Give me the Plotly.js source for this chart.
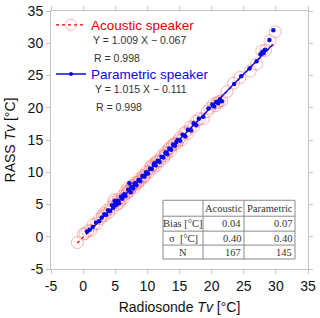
<!DOCTYPE html>
<html>
<head>
<meta charset="utf-8">
<script src="https://cdn.plot.ly/plotly-3.0.1.min.js"></script>
<style>html,body{margin:0;padding:0;background:#fff}#chart{width:320px;height:318px}</style>
</head>
<body>
<div id="chart"></div>
<script>
// Acoustic speaker (RASS vs radiosonde virtual temperature)
var acousticX = [-0.9,0.0,0.3,0.7,1.2,1.6,2.1,2.6,3.0,3.4,3.7,4.0,4.3,4.6,4.9,5.2,5.5,5.8,6.1,6.3,6.6,6.8,7.0,7.2,7.4,7.7,8.0,8.2,8.5,8.8,9.0,9.3,9.6,9.9,10.2,10.5,10.8,11.0,11.3,11.6,11.9,12.2,12.5,12.8,13.0,13.3,13.6,13.9,14.2,14.6,15.0,15.3,15.8,16.2,16.7,17.2,17.6,18.1,18.7,19.3,19.7,20.3,20.6,20.9,21.2,21.6,22.4,23.4,24.4,26.0,27.0,27.8,28.4,29.1,29.9,3.2,4.8,5.6,6.9,7.6,8.6,9.4,10.7,11.4,12.7,13.5,14.8,16.0];
var acousticY = [-0.9,0.4,0.5,0.9,1.0,1.9,2.0,2.8,3.2,3.3,4.1,3.8,4.6,4.4,5.4,5.0,5.8,5.6,6.3,6.0,7.0,6.7,7.6,7.1,7.5,7.9,7.7,8.4,8.3,9.0,8.8,9.5,9.4,10.1,10.0,10.8,10.6,11.3,11.0,11.8,11.7,12.5,12.2,13.1,12.9,13.6,13.3,14.2,14.4,14.5,15.3,15.0,16.1,16.0,17.0,17.1,17.9,18.3,18.3,19.4,19.9,20.6,20.3,20.8,21.0,21.1,22.5,23.8,24.7,25.7,26.8,28.8,28.9,30.4,31.8,3.6,5.7,5.2,6.9,7.9,8.5,9.2,11.0,11.6,12.6,13.8,14.9,16.3];
// Parametric speaker
var paramX = [0.6,1.0,1.5,2.0,2.5,2.9,3.3,3.6,3.9,4.2,4.5,4.7,4.9,5.1,5.4,5.6,5.9,6.1,6.4,6.6,7.2,7.0,7.4,7.5,7.8,8.0,8.3,8.6,8.9,9.2,9.5,9.8,10.1,10.4,10.7,11.0,11.3,11.6,11.9,12.2,12.5,12.8,13.1,13.4,13.7,14.0,14.3,14.7,15.1,15.5,15.9,16.3,16.8,17.2,17.6,18.0,18.7,19.5,20.1,20.4,20.7,21.0,21.3,21.6,23.5,24.6,25.9,27.0,27.6,27.9,28.1,28.3,29.0,29.6,5.0,6.3,8.1,9.7,11.1,12.9,14.5];
var paramY = [0.8,1.1,1.5,2.2,2.4,3.0,3.5,3.4,4.1,4.0,4.9,4.5,5.6,4.9,5.6,5.2,6.2,5.9,6.6,6.3,8.3,7.3,6.9,7.7,7.5,8.2,8.0,8.8,8.6,9.4,9.3,10.0,9.8,10.6,10.5,11.2,11.1,11.8,11.6,12.4,12.3,13.0,12.8,13.7,13.5,14.3,14.1,15.0,14.9,15.8,15.6,16.6,16.5,17.6,17.3,18.3,18.6,19.9,20.5,20.2,20.9,20.7,21.3,21.0,23.7,24.9,26.1,27.2,28.3,28.7,28.5,29.0,30.5,32.0,5.3,6.4,8.3,9.6,11.4,13.1,14.7];
// Regression lines (endpoints)
var acousticFitX = [-0.9, 29.6];
var acousticFitY = [-0.97, 29.8];
var paramFitX = [0.5, 29.5];
var paramFitY = [0.4, 29.8];
// Tick labels
var tickValues = [-5, 0, 5, 10, 15, 20, 25, 30, 35];
var tickLabels = ['-5', '0', '5', '10', '15', '20', '25', '30', '35'];
// Legend / statistics text
var seriesNames = ['Acoustic speaker', 'Parametric speaker'];
var fitTexts = ['Y = 1.009 X \u2212 0.067', 'Y = 1.015 X \u2212 0.111'];
var rTexts = ['R = 0.998', 'R = 0.998'];
// Table
var tableHeader = ['', 'Acoustic', 'Parametric'];
var tableRowLabels = ['Bias [\u00b0C]', '\u03c3&nbsp; [\u00b0C]', 'N'];
var tableAcoustic = ['0.04', '0.40', '167'];
var tableParametric = ['0.07', '0.40', '145'];

var RED = 'rgb(228,0,0)';
var BLUE = 'rgb(10,10,230)';
var PINK = 'rgba(245,110,110,0.5)';

var traces = [
  {x: acousticX, y: acousticY, type: 'scatter', mode: 'markers', showlegend: false,
   marker: {symbol: 'circle-open', size: 12, color: PINK, line: {width: 1, color: PINK}}},
  {x: acousticFitX, y: acousticFitY, type: 'scatter', mode: 'lines', showlegend: false,
   line: {color: RED, width: 1.3, dash: 'dot'}},
  {x: paramX, y: paramY, type: 'scatter', mode: 'markers', showlegend: false,
   marker: {symbol: 'circle', size: 4.5, color: BLUE}},
  {x: paramFitX, y: paramFitY, type: 'scatter', mode: 'lines', showlegend: false,
   line: {color: BLUE, width: 1.3}},
  {x: [null], y: [null], type: 'scatter', mode: 'lines+markers', name: seriesNames[0], legend: 'legend',
   line: {color: RED, width: 1.2, dash: 'dot'},
   marker: {symbol: 'circle-open', size: 11, color: PINK, line: {width: 1, color: PINK}}},
  {x: [null], y: [null], type: 'scatter', mode: 'lines+markers', name: seriesNames[1], legend: 'legend2',
   line: {color: BLUE, width: 1.3},
   marker: {symbol: 'circle', size: 4, color: BLUE}}
];

var axisCommon = {
  range: [-5, 35], tickmode: 'array', tickvals: tickValues, ticktext: tickLabels,
  showgrid: false, zeroline: false,
  showline: true, linecolor: '#c4c4c4', linewidth: 1, mirror: 'ticks',
  ticks: 'outside', ticklen: 4, tickcolor: '#c4c4c4',
  tickfont: {family: 'Liberation Sans', size: 14, color: '#111'}
};

var annFont = {family: 'Liberation Sans', size: 10.5, color: '#333'};
function ann(text, px, py) {
  return {xref: 'paper', yref: 'paper', x: (px - 51) / 257, y: (269 - py) / 259,
          xanchor: 'left', yanchor: 'middle', showarrow: false, text: text, font: annFont};
}

// Table drawn with shapes + annotations (pixel layout -> paper coords)
var colEdges = [163, 203, 244, 295];
var rowEdges = [200, 216, 231, 245, 259];
function px2x(p) { return (p - 51) / 257; }
function py2y(p) { return (269 - p) / 259; }
var shapes = [];
var tblLine = {color: '#8a8a8a', width: 1};
shapes.push({type: 'rect', xref: 'paper', yref: 'paper', x0: px2x(colEdges[0]), x1: px2x(colEdges[3]),
             y0: py2y(rowEdges[0]), y1: py2y(rowEdges[4]), fillcolor: 'white', line: tblLine, layer: 'above'});
for (var c = 1; c < colEdges.length - 1; c++) {
  shapes.push({type: 'line', xref: 'paper', yref: 'paper', x0: px2x(colEdges[c]), x1: px2x(colEdges[c]),
               y0: py2y(rowEdges[0]), y1: py2y(rowEdges[4]), line: tblLine, layer: 'above'});
}
for (var r = 1; r < rowEdges.length - 1; r++) {
  shapes.push({type: 'line', xref: 'paper', yref: 'paper', x0: px2x(colEdges[0]), x1: px2x(colEdges[3]),
               y0: py2y(rowEdges[r]), y1: py2y(rowEdges[r]), line: tblLine, layer: 'above'});
}
var tblFont = {family: 'Liberation Serif', size: 10.5, color: '#333'};
var annotations = [
  ann(fitTexts[0], 91, 39),
  ann(rTexts[0], 92, 57),
  ann(fitTexts[1], 93, 88),
  ann(rTexts[1], 94, 106)
];
function cellAnn(text, col, row, align) {
  var xa, xp;
  if (align === 'right') { xa = 'right'; xp = colEdges[col + 1] - 1; }
  else { xa = 'center'; xp = (colEdges[col] + colEdges[col + 1]) / 2; }
  return {xref: 'paper', yref: 'paper', x: px2x(xp), y: py2y((rowEdges[row] + rowEdges[row + 1]) / 2),
          xanchor: xa, yanchor: 'middle', showarrow: false, text: text, font: tblFont};
}
annotations.push(cellAnn(tableHeader[1], 1, 0, 'center'));
annotations.push(cellAnn(tableHeader[2], 2, 0, 'center'));
for (var i = 0; i < 3; i++) {
  annotations.push(cellAnn(tableRowLabels[i], 0, i + 1, 'center'));
  annotations.push(cellAnn(tableAcoustic[i], 1, i + 1, 'right'));
  annotations.push(cellAnn(tableParametric[i], 2, i + 1, 'right'));
}

var layout = {
  width: 320, height: 318,
  margin: {l: 51, r: 12, t: 10, b: 49},
  paper_bgcolor: 'white', plot_bgcolor: 'white',
  xaxis: Object.assign({}, axisCommon, {
    ticklabelstandoff: 0,
    title: {text: 'Radiosonde <i>Tv</i> [\u00b0C]', standoff: 9,
            font: {family: 'Liberation Sans', size: 14, color: '#111'}}
  }),
  yaxis: Object.assign({}, axisCommon, {
    title: {text: 'RASS <i>Tv</i> [\u00b0C]', standoff: 8,
            font: {family: 'Liberation Sans', size: 14, color: '#111'}}
  }),
  legend: {x: 0.0, y: 0.942, xanchor: 'left', yanchor: 'middle', bgcolor: 'rgba(0,0,0,0)',
           itemwidth: 30, font: {family: 'Liberation Sans', size: 13.5, color: RED}},
  legend2: {x: 0.0, y: 0.752, xanchor: 'left', yanchor: 'middle', bgcolor: 'rgba(0,0,0,0)',
           itemwidth: 30, font: {family: 'Liberation Sans', size: 13.5, color: BLUE}},
  shapes: shapes,
  annotations: annotations
};

Plotly.newPlot('chart', traces, layout, {displayModeBar: false, staticPlot: true});
</script>
</body>
</html>
